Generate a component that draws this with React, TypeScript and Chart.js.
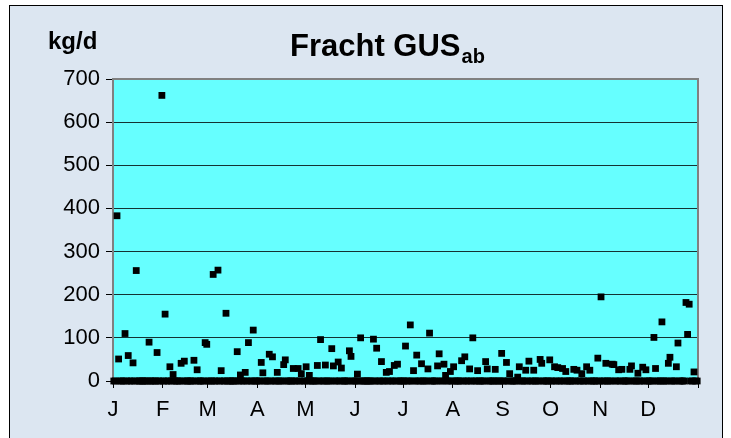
import React, { useEffect, useRef } from 'react';
import { Chart, registerables } from 'chart.js';

Chart.register(...registerables);

// Daily values (kg/d), one array per month
const jan = [0, 0, 383, 51, 0, 0, 0, 110, 0, 59, 0, 0, 42, 0, 256, 0, 0, 0, 0, 0, 0, 0, 90, 0, 0, 0, 0, 66, 0, 0, 662];
const feb = [0, 155, 0, 0, 33, 0, 15, 0, 0, 0, 0, 41, 0, 46, 0, 0, 0, 0, 0, 48, 0, 26, 0, 0, 0, 0, 89, 85];
const mar = [0, 0, 0, 247, 0, 0, 257, 0, 24, 0, 0, 157, 0, 0, 0, 0, 0, 0, 68, 0, 14, 0, 0, 20, 0, 89, 0, 0, 118, 0, 0];
const apr = [0, 0, 43, 19, 0, 0, 0, 62, 0, 56, 0, 0, 20, 0, 0, 0, 38, 49, 0, 0, 0, 0, 29, 0, 0, 29, 0, 17, 0, 0];
const may = [33, 0, 13, 0, 0, 0, 0, 36, 0, 96, 0, 0, 37, 0, 0, 0, 75, 35, 0, 0, 44, 0, 30, 0, 0, 0, 0, 70, 57, 0, 0];
const jun = [0, 16, 0, 100, 0, 0, 0, 0, 0, 0, 0, 97, 0, 76, 0, 0, 45, 0, 0, 20, 0, 22, 0, 0, 36, 0, 39, 0, 0, 0];
const jul = [0, 81, 0, 0, 130, 0, 24, 0, 60, 0, 0, 40, 0, 0, 0, 28, 111, 0, 0, 0, 0, 35, 63, 0, 0, 39, 13, 0, 0, 22, 0];
const aug = [33, 0, 0, 0, 0, 47, 0, 56, 0, 0, 28, 0, 100, 0, 0, 24, 0, 0, 0, 0, 45, 28, 0, 0, 0, 0, 27, 0, 0, 0, 64];
const sep = [0, 0, 43, 0, 17, 0, 0, 0, 0, 9, 33, 0, 0, 0, 25, 0, 46, 0, 0, 25, 0, 0, 0, 50, 41, 0, 0, 0, 0, 49];
const oct = [0, 0, 33, 0, 31, 0, 0, 29, 0, 22, 0, 0, 0, 0, 27, 0, 25, 0, 0, 17, 0, 0, 33, 0, 25, 0, 0, 0, 0, 53, 0];
const nov = [195, 0, 0, 41, 0, 0, 0, 39, 38, 0, 0, 26, 0, 27, 0, 0, 0, 0, 27, 35, 0, 0, 0, 18, 0, 0, 32, 0, 26, 0];
const dec = [0, 0, 0, 101, 29, 0, 0, 0, 137, 0, 0, 0, 41, 55, 0, 0, 0, 33, 88, 0, 0, 0, 0, 182, 108, 178, 0, 0, 21, 0, 0];

const monthLabels = ['J', 'F', 'M', 'A', 'M', 'J', 'J', 'A', 'S', 'O', 'N', 'D'];
const monthStarts = [0, 31, 59, 90, 120, 151, 181, 212, 243, 273, 304, 334, 365];
const yMin = 0;
const yMax = 700;
const yStep = 100;
const titleMain = 'Fracht GUS';
const titleSub = 'ab';
const yUnit = 'kg/d';

const FONT = '"Liberation Sans", Arial, sans-serif';

export default function App() {
  const ref = useRef<HTMLCanvasElement>(null);

  useEffect(() => {
    const values = [jan, feb, mar, apr, may, jun, jul, aug, sep, oct, nov, dec].flat();
    const points = values.map((v, i) => ({ x: i + 1, y: v }));

    const decor = {
      id: 'decor',
      beforeDraw(chart: any) {
        const { ctx, chartArea: a } = chart;
        ctx.save();
        ctx.fillStyle = '#66ffff';
        ctx.fillRect(a.left, a.top, a.right - a.left, a.bottom - a.top);
        ctx.restore();
      },
      beforeDatasetsDraw(chart: any) {
        const { ctx, chartArea: a } = chart;
        ctx.save();
        ctx.strokeStyle = '#808080';
        ctx.lineWidth = 2;
        ctx.strokeRect(a.left, a.top, a.right - a.left, a.bottom - a.top);
        ctx.restore();
      },
      afterDraw(chart: any) {
        const { ctx } = chart;
        ctx.save();
        ctx.fillStyle = '#000';
        ctx.textBaseline = 'alphabetic';
        ctx.textAlign = 'left';
        ctx.font = `bold 31px ${FONT}`;
        ctx.fillText(titleMain, 290, 56);
        const w = ctx.measureText(titleMain).width;
        ctx.font = `bold 20px ${FONT}`;
        ctx.fillText(titleSub, 290 + w + 1, 63);
        ctx.font = `bold 24px ${FONT}`;
        ctx.fillText(yUnit, 48, 49);
        ctx.restore();
      },
    };

    const chart = new Chart(ref.current as HTMLCanvasElement, {
      type: 'scatter',
      data: {
        datasets: [
          {
            data: points,
            pointStyle: 'rect',
            pointRadius: 4.8,
            pointHoverRadius: 4.8,
            backgroundColor: '#000',
            borderColor: '#000',
            borderWidth: 0,
            clip: false as any,
          },
        ],
      },
      options: {
        animation: false,
        responsive: false,
        events: [],
        layout: { padding: { left: 0, top: 79, right: 33, bottom: 0 } },
        plugins: {
          legend: { display: false },
          tooltip: { enabled: false },
          title: { display: false },
        },
        scales: {
          x: {
            type: 'linear',
            min: 0.5,
            max: 365.5,
            afterBuildTicks: (s: any) => {
              s.ticks = monthStarts.map((d) => ({ value: d + 0.5 }));
            },
            afterFit: (s: any) => {
              s.height = 57;
            },
            ticks: {
              autoSkip: false,
              maxRotation: 0,
              minRotation: 0,
              padding: 9,
              color: '#000',
              font: { family: FONT, size: 22 },
              callback: (_v: any, i: number) => monthLabels[i] ?? '',
            },
            grid: { drawOnChartArea: false, tickLength: 7, tickColor: '#000', color: '#000' },
            border: { display: false },
          },
          y: {
            min: yMin,
            max: yMax,
            afterFit: (s: any) => {
              s.width = 113;
            },
            ticks: {
              stepSize: yStep,
              padding: 6,
              color: '#000',
              font: { family: FONT, size: 22 },
            },
            grid: { color: 'rgba(0,0,0,0.8)', tickLength: 7, tickColor: '#000' },
            border: { color: '#808080', width: 2 },
          },
        },
      },
      plugins: [decor],
    });
    return () => chart.destroy();
  }, []);

  return (
    <div style={{ position: 'fixed', left: 0, top: 0, width: 731, height: 438, overflow: 'hidden', background: '#fff' }}>
      <div
        style={{
          position: 'absolute',
          left: 9,
          top: 5,
          width: 714,
          height: 460,
          boxSizing: 'border-box',
          border: '1px solid #000',
          background: '#dce6f1',
        }}
      />
      <canvas ref={ref} width={731} height={438} style={{ position: 'absolute', left: 0, top: 0 }} />
    </div>
  );
}
